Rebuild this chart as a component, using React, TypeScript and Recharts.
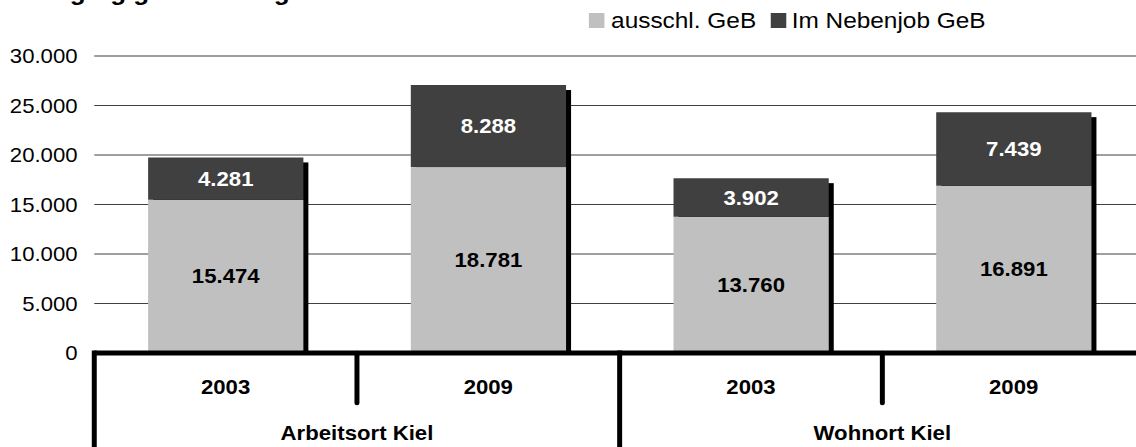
import React from 'react';
import { BarChart, Bar, XAxis, YAxis, CartesianGrid, LabelList, Legend } from 'recharts';

const categories = ['2003', '2009', '2003', '2009'];
const groups = ['Arbeitsort Kiel', 'Arbeitsort Kiel', 'Wohnort Kiel', 'Wohnort Kiel'];
const ausschl = [15474, 18781, 13760, 16891];
const neben = [4281, 8288, 3902, 7439];
const yTicks = [0, 5000, 10000, 15000, 20000, 25000, 30000];
const seriesNames = ['ausschl. GeB', 'Im Nebenjob GeB'];
const title = 'Geringfügig Beschäftigte';

const LIGHT = '#C0C0C0';
const DARK = '#404040';
const FONT = '"Liberation Sans", Arial, sans-serif';
const STRETCH = 1.109;

const data = categories.map((year, i) => ({
  key: `${groups[i]} ${year}`,
  year,
  group: groups[i],
  ausschl: ausschl[i],
  neben: neben[i],
}));

const fmt = (v: any) => String(v).replace(/\B(?=(\d{3})+(?!\d))/g, '.');

const LowerShape = (props: any) => {
  const { x, y, width, height, payload } = props;
  if (!payload || !height) return null;
  const k = height / payload.ausschl;
  const top = y - payload.neben * k;
  const sy = top + 5;
  return (
    <g>
      <rect x={x + 4.5} y={sy} width={width} height={y + height - sy} fill="#000" />
      <rect x={x} y={y} width={width} height={height} fill={LIGHT} />
    </g>
  );
};

const XTick = (props: any) => {
  const { x, y, payload, index } = props;
  const half = payload && typeof payload.offset === 'number' && payload.offset > 0 ? payload.offset : 118.4;
  const i = typeof index === 'number' ? index : 0;
  const d = data[i];
  if (!d) return null;
  const first = i === 0 || data[i - 1].group !== d.group;
  const last = i === data.length - 1;
  return (
    <g>
      <text x={x} y={y + 41} textAnchor="middle" fontFamily={FONT} fontSize={20} fontWeight="bold" fill="#000">
        {d.year}
      </text>
      {first && (
        <>
          <line x1={x - half} x2={x - half} y1={y - 2.5} y2={y + 110} stroke="#000" strokeWidth={4.5} />
          <line x1={x + half} x2={x + half} y1={y} y2={y + 50} stroke="#000" strokeWidth={4.5} strokeLinecap="round" />
          <text x={x + half} y={y + 87} textAnchor="middle" fontFamily={FONT} fontSize={20} fontWeight="bold" fill="#000">
            {d.group}
          </text>
        </>
      )}
      {last && <line x1={x + half} x2={x + half} y1={y - 2.5} y2={y + 110} stroke="#000" strokeWidth={4.5} />}
    </g>
  );
};

const LegendContent = () => (
  <div style={{ display: 'flex', alignItems: 'flex-start', fontFamily: FONT, fontSize: 22, lineHeight: '22px', color: '#000', whiteSpace: 'nowrap' }}>
    <span style={{ display: 'inline-block', width: 14, height: 15, marginTop: 3, background: LIGHT, marginRight: 6 }} />
    <span>{seriesNames[0]}</span>
    <span style={{ display: 'inline-block', width: 14, height: 15, marginTop: 3, background: DARK, marginLeft: 13, marginRight: 5 }} />
    <span>{seriesNames[1]}</span>
  </div>
);

export default function App() {
  return (
    <div style={{ position: 'fixed', left: 0, top: 0, width: 1136, height: 447, overflow: 'hidden', background: '#fff' }}>
      <div style={{ position: 'relative', width: 1040, height: 447, transform: `scaleX(${STRETCH})`, transformOrigin: '0 0' }}>
        <svg width={700} height={20} style={{ position: 'absolute', left: 0, top: 0 }}>
          <text x={1.5} y={0} fontFamily={FONT} fontSize={23.5} fontWeight="bold" fill="#000">
            {title}
          </text>
        </svg>
        <BarChart
          width={1040}
          height={447}
          data={data}
          margin={{ top: 56, right: 7.5, bottom: 0, left: 0 }}
          barCategoryGap="20.5%"
          style={{ fontFamily: FONT }}
        >
          <CartesianGrid vertical={false} stroke={DARK} strokeWidth={1} />
          <YAxis
            width={85}
            domain={[0, 30000]}
            ticks={yTicks}
            axisLine={false}
            tickLine={false}
            tickSize={0}
            tickMargin={15}
            tickFormatter={fmt}
            tick={{ fill: '#000', fontSize: 20, fontFamily: FONT }}
          />
          <Legend
            verticalAlign="middle"
            align="center"
            layout="horizontal"
            content={LegendContent}
            wrapperStyle={{ left: 531, top: 10, width: 'auto', height: 'auto' }}
          />
          <Bar dataKey="ausschl" name={seriesNames[0]} stackId="a" fill={LIGHT} shape={LowerShape} isAnimationActive={false}>
            <LabelList dataKey="ausschl" position="center" formatter={fmt} fill="#000" fontSize={20} fontWeight="bold" fontFamily={FONT} />
          </Bar>
          <Bar dataKey="neben" name={seriesNames[1]} stackId="a" fill={DARK} isAnimationActive={false}>
            <LabelList dataKey="neben" position="center" formatter={fmt} fill="#fff" fontSize={20} fontWeight="bold" fontFamily={FONT} />
          </Bar>
          <XAxis
            dataKey="key"
            interval={0}
            height={94}
            tickSize={0}
            tickMargin={0}
            tickLine={false}
            axisLine={{ stroke: '#000', strokeWidth: 5 }}
            tick={XTick}
          />
        </BarChart>
      </div>
    </div>
  );
}
